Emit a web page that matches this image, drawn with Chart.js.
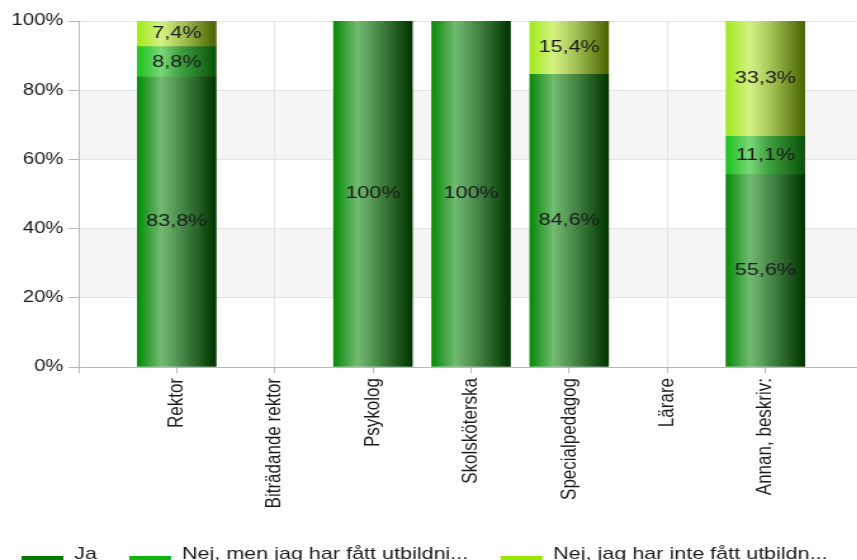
<!DOCTYPE html>
<html>
<head>
<meta charset="utf-8">
<script src="https://cdn.jsdelivr.net/npm/chart.js@4/dist/chart.umd.min.js"></script>
<style>
  html, body { margin: 0; padding: 0; background: #ffffff; }
  #wrap { width: 857px; height: 560px; overflow: hidden; position: relative; background: #fff; }
  #stretch { transform: scaleX(1.268); transform-origin: 0 0; width: 681px; height: 560px; }
</style>
</head>
<body>
<div id="wrap"><div id="stretch"><canvas id="c" width="681" height="560" style="width:681px;height:560px"></canvas></div></div>
<script>
// ---- data ----
const categories = ['Rektor', 'Biträdande rektor', 'Psykolog', 'Skolsköterska', 'Specialpedagog', 'Lärare', 'Annan, beskriv:'];
const seriesNames = ['Ja', 'Nej, men jag har fått utbildni...', 'Nej, jag har inte fått utbildn...'];
const jaValues      = [83.8, 0, 100, 100, 84.6, 0, 55.6];
const nejMenValues  = [8.8,  0, 0,   0,   0,    0, 11.1];
const nejInteValues = [7.4,  0, 0,   0,   15.4, 0, 33.3];
const yTickValues   = [0, 20, 40, 60, 80, 100];

// ---- styles ----
const FONT = "'Liberation Sans', Arial, sans-serif";
const legendColors = ['#007a00', '#0db50d', '#99e600'];
const gradStops = [
  [[0, '#068a06'], [0.3, '#72bb72'], [0.55, '#4a8c4a'], [1, '#003400']],
  [[0, '#1dc01d'], [0.3, '#7ad87a'], [0.55, '#3fa03f'], [1, '#0a520a']],
  [[0, '#a2e81e'], [0.3, '#d4f282'], [0.55, '#a9c85a'], [1, '#4a6400']]
];
const BAR_W = 62;

function pad(arr) { return [null].concat(arr.map(v => v === 0 ? null : v)).concat([null]); }
const labels = [''].concat(categories).concat(['']);

function makeBg(k) {
  return function (ctx) {
    const chart = ctx.chart;
    const sx = chart.scales && chart.scales.x;
    const stops = gradStops[k];
    if (!sx || ctx.dataIndex == null) return legendColors[k];
    const cx = sx.getPixelForValue(ctx.dataIndex);
    if (!isFinite(cx)) return legendColors[k];
    const g = chart.ctx.createLinearGradient(cx - BAR_W / 2, 0, cx + BAR_W / 2, 0);
    stops.forEach(s => g.addColorStop(s[0], s[1]));
    return g;
  };
}

const series = [jaValues, nejMenValues, nejInteValues];
const datasets = series.map((vals, k) => ({
  label: seriesNames[k],
  data: pad(vals),
  backgroundColor: makeBg(k),
  borderWidth: 0,
  barThickness: BAR_W
}));

const bandsPlugin = {
  id: 'bands',
  beforeDraw(chart) {
    const { ctx, chartArea, scales } = chart;
    const y = scales.y;
    ctx.save();
    ctx.fillStyle = '#f5f5f5';
    [[60, 80], [20, 40]].forEach(([a, b]) => {
      const top = y.getPixelForValue(b), bot = y.getPixelForValue(a);
      ctx.fillRect(chartArea.left, top, chartArea.right - chartArea.left, bot - top);
    });
    ctx.restore();
  }
};

const valueLabels = {
  id: 'valueLabels',
  afterDatasetsDraw(chart) {
    const ctx = chart.ctx;
    ctx.save();
    ctx.font = '17px ' + FONT;
    ctx.fillStyle = '#1a1a1a';
    ctx.textAlign = 'center';
    ctx.textBaseline = 'middle';
    chart.data.datasets.forEach((ds, i) => {
      const meta = chart.getDatasetMeta(i);
      meta.data.forEach((bar, j) => {
        const v = ds.data[j];
        if (v == null || v === 0) return;
        const txt = v === 100 ? '100%' : v.toFixed(1).replace('.', ',') + '%';
        ctx.fillText(txt, bar.x, (bar.y + bar.base) / 2);
      });
    });
    ctx.restore();
  }
};

// legend drawn along the bottom edge (box, gap, text)
const bottomLegend = {
  id: 'bottomLegend',
  afterDraw(chart) {
    const ctx = chart.ctx;
    ctx.save();
    ctx.font = '17px ' + FONT;
    ctx.textBaseline = 'alphabetic';
    ctx.textAlign = 'left';
    let x = 17;
    seriesNames.forEach((n, k) => {
      ctx.fillStyle = legendColors[k];
      ctx.fillRect(x, 556, 33, 12);
      ctx.fillStyle = '#1a1a1a';
      ctx.fillText(n, x + 41.5, 559);
      x += 41.5 + ctx.measureText(n).width + 25.5;
    });
    ctx.restore();
  }
};

new Chart(document.getElementById('c'), {
  type: 'bar',
  data: { labels: labels, datasets: datasets },
  plugins: [bandsPlugin, valueLabels, bottomLegend],
  options: {
    responsive: false,
    devicePixelRatio: 1,
    animation: false,
    layout: { padding: { top: 21, right: 0, left: 0, bottom: 0 } },
    plugins: {
      tooltip: { enabled: false },
      legend: { display: false }
    },
    scales: {
      x: {
        stacked: true,
        offset: false,
        afterFit: s => { s.height = 193; s.paddingLeft = 0; s.paddingRight = 0; },
        grid: { offset: false, color: '#e4e4e4', tickLength: 6, tickColor: '#b8b8b8' },
        border: { color: '#b8b8b8' },
        ticks: {
          autoSkip: false, maxRotation: 90, minRotation: 90, padding: 5,
          font: { family: FONT, size: 17 }, color: '#1a1a1a'
        }
      },
      y: {
        stacked: true,
        min: 0, max: 100,
        afterFit: s => { s.width = 62; },
        afterBuildTicks: s => { s.ticks = yTickValues.map(v => ({ value: v })); },
        grid: { color: '#e4e4e4', tickLength: 8, tickColor: '#b8b8b8' },
        border: { color: '#b8b8b8' },
        ticks: {
          padding: 4,
          font: { family: FONT, size: 16 }, color: '#1a1a1a',
          callback: v => v + '%'
        }
      }
    }
  }
});
</script>
</body>
</html>
